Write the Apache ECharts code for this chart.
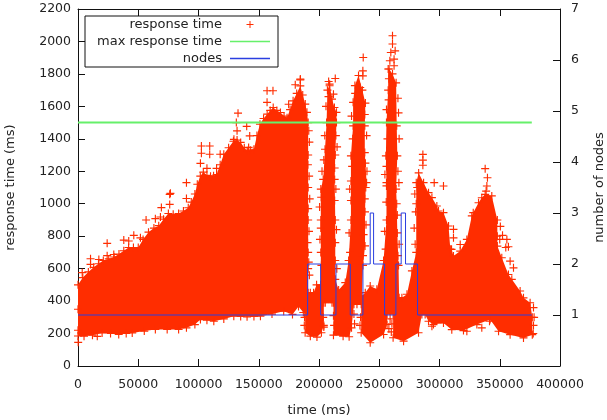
<!DOCTYPE html>
<html><head><meta charset="utf-8">
<style>html,body{margin:0;padding:0;background:#fff}#c{width:607px;height:420px}</style>
<script src="https://cdn.jsdelivr.net/npm/echarts@6/dist/echarts.min.js"></script>
</head><body><div id="c"></div>
<script>
// upper edge of the response-time cloud (ms, ms)
const topTimes = [0,0,0,4000,8600,13000,17000,21000,25500,30000,34000,38000,42000,46000,50000,54000,58500,63000,67000,71000,75000,79000,83500,87500,91500,94000,97000,99000,101500,104000,107000,110000,112500,115000,118000,121000,125000,129000,132000,135000,138000,140500,143000,146000,148500,151000,154000,157000,159500,162000,165000,168000,171000,173500,176000,178500,181500,184500,186500,188600,190000,191000,191000,191000,191000,191000,191000,191000,192800,195500,198000,201500,201500,201500,201500,203500,205000,206300,207000,208800,210800,212800,214500,214500,213500,213000,213500,213500,213500,216300,221800,224600,226500,226500,226500,228300,228300,229800,232800,236000,238500,238000,238000,239500,238800,238200,238200,236500,235500,238400,242500,248000,253600,256000,256000,256000,255500,256000,257400,257400,258200,261000,264000,264500,265000,264000,264500,265000,266000,266500,268800,273000,277100,280700,280700,280700,282700,286800,290900,293700,297800,299200,303300,307500,309000,310000,311600,317200,322700,326800,328000,332400,335100,337900,343400,348000,348000,348000,351700,357200,360000,366900,369700,375200,377000,377000];
const topValues = [220,350,500,545,580,608,630,650,660,672,690,710,730,730,730,780,825,850,865,905,940,935,940,955,975,1010,1060,1120,1170,1195,1175,1170,1172,1180,1240,1305,1345,1385,1392,1378,1345,1326,1330,1336,1420,1490,1525,1552,1575,1593,1575,1562,1540,1530,1580,1634,1680,1726,1670,1614,1563,1500,1300,1100,900,700,600,452,452,452,500,500,700,900,1090,1150,1336,1500,1700,1737,1645,1593,1563,1500,1300,1150,900,650,534,468,514,650,900,1140,1295,1480,1625,1728,1790,1700,1620,1480,1315,1130,1100,950,740,620,432,452,493,473,650,900,1130,1110,1295,1500,1700,1830,1830,1800,1745,1480,1295,1090,1000,820,620,421,421,442,586,700,1000,1130,1190,1130,1068,1038,986,955,945,863,720,719,678,708,780,925,945,1006,1037,1058,1048,900,800,739,667,564,534,462,420,390,300];
// lower edge of the cloud
const bottomTimes = [0,5000,12000,20000,27000,33800,40000,45000,55000,64200,74000,83500,90000,97000,101600,107000,112700,121000,129300,135000,140300,146000,151400,161000,170700,178000,183000,187000,188500,188500,192800,198300,202000,204000,204000,205200,210800,212000,212000,220000,225000,227000,229000,231500,235000,235000,242500,253600,256500,256500,261500,261500,270200,282600,285400,288100,290900,295000,303300,310200,319900,331000,342000,349000,358600,369700,377000];
const bottomValues = [185,184,190,204,200,194,200,204,215,225,225,225,235,255,286,282,276,290,307,305,303,305,307,320,338,318,367,330,330,205,184,178,205,250,390,390,390,390,190,184,180,235,380,380,380,205,143,194,256,320,320,174,153,205,317,317,276,255,265,224,218,255,286,214,193,173,193];
// markers along the frayed sides of the peaks
const fringeTimes = [191500,192000,190800,191800,192300,191000,191700,190500,191500,192000,202000,200800,201500,200500,201800,202500,204000,204800,205800,214000,215000,213000,214000,213000,214500,213500,214800,225800,225000,226500,225500,227500,228000,227000,230000,238000,239500,238500,239800,238000,239000,237000,236500,255300,254500,255800,254700,256000,256800,256000,257800,258000,265500,266000,266500,265500,266300,265000,266500,265500,279800,279000,280200,279500,281500,188000,187800,203500,204000,212000,212500,229500,229000,234500,234000,258000,259000,260500,260000,378000,378500,378000,377800,350500,350000,355000];
const fringeValues = [1450,1380,1240,1170,1030,970,830,760,640,560,620,780,850,980,1040,1200,1270,1420,1600,1420,1350,1220,1090,1020,840,760,600,700,820,1020,1090,1230,1400,1540,1680,1550,1420,1250,1200,1030,870,810,680,720,830,1010,1180,1230,1400,1580,1640,1770,1650,1560,1400,1200,1130,930,750,680,750,850,950,1060,1100,300,250,300,240,310,250,260,320,300,250,230,290,260,210,360,300,250,200,860,780,730];
// isolated markers standing clear of the cloud
const strayTimes = [150,16000,3500,10400,10400,17300,24200,24200,29700,38000,42100,46300,51800,56500,64200,68400,69200,76100,76100,76700,90000,90000,101600,102400,102400,107000,109300,109300,115000,118000,129400,131400,132000,132800,140000,141600,142500,156900,156900,161800,174800,180300,184500,184500,207900,208000,208800,212000,213500,234200,236400,236400,236700,258800,259600,261000,261000,262300,262300,263200,286200,286200,286200,295600,303300,311600,311600,317200,338700,339300,339800,337900,352300,355900,357200,358600,361400,293700,322700,335100,341500];
const strayValues = [146,183,575,661,626,656,756,680,687,776,770,805,790,900,908,918,976,1058,996,1064,1130,1032,1249,1356,1311,1218,1356,1305,1218,1305,1397,1500,1449,1558,1477,1347,1418,1696,1625,1696,1613,1733,1763,1768,1660,1753,1727,1675,1772,1716,1819,1788,1901,1881,1932,2035,1984,1891,1850,1942,1304,1269,1237,1130,1109,842,790,749,1078,1109,1160,1216,805,780,735,646,605,245,214,235,276];
// limit line
const limitTimes = [0,376600];
const limitValues = [1500,1500];
// node count over time
const nodeTimes = [0,190570,201350,214070,225950,236450,242500,245300,254400,263800,268200,271800,281800,376600];
const nodeValues = [1,2,1,2,1,2,3,2,1,2,3,2,1,1];
const seriesNames = ['response time','max response time','nodes'];
const xTitle='time (ms)', yTitle='response time (ms)', y2Title='number of nodes';

const RED='#ff2d00', GREEN='#66f06a', BLUE='#2a3fe0', INK='#222';
const PLUS='path://M3 0h1v3h3v1h-3v3h-1v-3h-3v-1h3z';
const HLINE='path://M0 0h40v1.5h-40z';
const zip=(a,b)=>a.map((t,i)=>[t,b[i]]);
const tick={fontFamily:'DejaVu Sans',fontSize:12.5,color:INK};
const title={fontFamily:'DejaVu Sans',fontSize:13,color:INK};
const line={lineStyle:{color:'#111',width:1}};
const plain=v=>String(v);
const chart=echarts.init(document.getElementById('c'),null,{renderer:'canvas'});
chart.setOption({
  animation:false,
  backgroundColor:'#fff',
  grid:{left:78,top:9,width:482,height:357,containLabel:false,outerBoundsMode:'none'},
  legend:{
    orient:'vertical',left:85,top:16,align:'right',padding:[1,8,1,12],itemGap:2,
    itemWidth:40,itemHeight:7,
    backgroundColor:'#fff',borderColor:'#111',borderWidth:1,borderRadius:0,
    textStyle:{fontFamily:'DejaVu Sans',fontSize:13,color:INK,lineHeight:15,padding:[0,3,0,0]},
    data:[
      {name:seriesNames[0],icon:PLUS,itemStyle:{color:RED}},
      {name:seriesNames[1],icon:HLINE,itemStyle:{color:GREEN}},
      {name:seriesNames[2],icon:HLINE,itemStyle:{color:BLUE}}
    ],
    selectedMode:false
  },
  xAxis:[
    {type:'value',min:0,max:400000,interval:50000,position:'bottom',name:xTitle,nameLocation:'middle',nameGap:38,nameTextStyle:title,
     axisLine:{onZero:false,...line},axisTick:{inside:true,length:7,...line},axisLabel:{...tick,margin:12,formatter:plain},splitLine:{show:false}},
    {type:'value',min:0,max:400000,interval:50000,position:'top',
     axisLine:{onZero:false,...line},axisTick:{inside:true,length:7,...line},axisLabel:{show:false},splitLine:{show:false}}
  ],
  yAxis:[
    {type:'value',min:0,max:2200,interval:200,position:'left',name:yTitle,nameLocation:'middle',nameGap:61,nameTextStyle:title,
     axisLine:{onZero:false,...line},axisTick:{inside:true,length:7,...line},axisLabel:{...tick,margin:7,formatter:plain},splitLine:{show:false}},
    {type:'value',min:0,max:7,interval:1,position:'right',name:y2Title,nameLocation:'middle',nameGap:33,nameTextStyle:title,
     axisLine:{onZero:false,...line},axisTick:{inside:true,length:7,...line},
     axisLabel:{...tick,margin:11,formatter:v=>v===0?'':String(v)},splitLine:{show:false}}
  ],
  series:[
    {name:seriesNames[0],type:'custom',xAxisIndex:0,yAxisIndex:0,z:1,silent:true,clip:true,
     data:[[0,0]],
     renderItem:(p,api)=>({type:'polygon',
       shape:{points:zip(topTimes,topValues).concat(zip(bottomTimes,bottomValues).reverse()).map(d=>api.coord(d))},
       style:{fill:RED}})},
    {name:seriesNames[0],type:'scatter',xAxisIndex:0,yAxisIndex:0,z:2,symbol:PLUS,symbolSize:8,silent:true,
     itemStyle:{color:RED,opacity:1},
     data:zip(topTimes,topValues).concat(zip(bottomTimes,bottomValues),zip(fringeTimes,fringeValues),zip(strayTimes,strayValues))},
    {name:seriesNames[1],type:'line',xAxisIndex:0,yAxisIndex:0,z:3,showSymbol:false,silent:true,
     lineStyle:{color:GREEN,width:2},itemStyle:{color:GREEN},data:zip(limitTimes,limitValues)},
    {name:seriesNames[2],type:'line',xAxisIndex:0,yAxisIndex:1,z:4,showSymbol:false,silent:true,step:'end',
     lineStyle:{color:BLUE,width:1},itemStyle:{color:BLUE},data:zip(nodeTimes,nodeValues)}
  ]
});
</script></body></html>
